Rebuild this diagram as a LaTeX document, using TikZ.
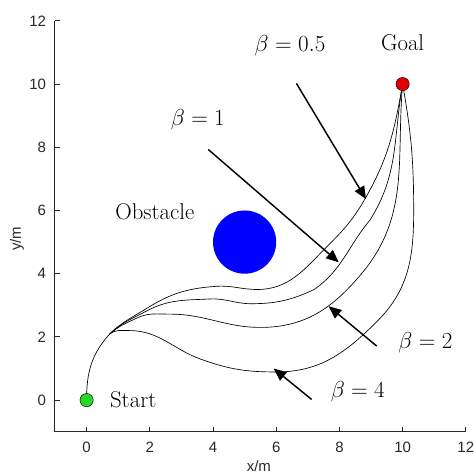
\documentclass[tikz,border=0pt]{standalone}
\usepackage{fontspec}
\newfontfamily\axisfont{Liberation Sans}
\usetikzlibrary{arrows.meta}
\definecolor{startgreen}{RGB}{40,215,40}
\definecolor{goalred}{RGB}{225,0,0}
\definecolor{obstblue}{RGB}{0,0,255}
\definecolor{axisgray}{RGB}{40,40,40}
\tikzset{
  path/.style={line width=0.6pt},
  pointer/.style={line width=1.3pt,-{Triangle[length=4mm,width=3.4mm]}},
  ticklabel/.style={font=\axisfont\fontsize{13.5}{15}\selectfont,text=axisgray},
  textlabel/.style={font=\fontsize{20.5}{24}\selectfont}
}
\begin{document}
\begin{tikzpicture}
\useasboundingbox (-2.74,-2.34) rectangle (12.29,12.66);

% axes
\draw[axisgray,line width=0.9pt] (-1,12) -- (-1,-1) -- (12,-1);
\foreach \x in {0,2,...,12}{
  \draw[axisgray,line width=0.9pt] (\x,-1) -- (\x,-0.84);
  \node[ticklabel] at (\x,-1.48) {\x};
}
\foreach \y in {0,2,...,12}{
  \draw[axisgray,line width=0.9pt] (-1,\y) -- (-0.84,\y);
  \node[ticklabel,anchor=east] at (-1.16,\y) {\y};
}
\node[ticklabel] at (5.45,-2.1) {x/m};
\node[ticklabel,rotate=90] at (-2.2,5.1) {y/m};

% obstacle
\fill[obstblue] (5,5) circle (1);
\node[textlabel] (obst) at (2.16,5.95) {Obstacle};

% paths
\coordinate (split) at (0.72,2.08);
\draw[path] (0,0) to[out=90,in=228] (split);
\draw[path] (split) to[out=45,in=212] (1.9,2.9) to[out=32,in=184] (4.1,3.6)
  to[out=4,in=180] (5.4,3.5) to[out=0,in=225] (7.6,4.85)
  to[out=45,in=240] (8.8,6.35) to[out=60,in=260] (10,10);
\draw[path] (split) to[out=44,in=208] (1.9,2.82) to[out=28,in=183] (3.9,3.2)
  to[out=3,in=180] (5.2,3.05) to[out=0,in=205] (7.2,3.5)
  to[out=35,in=230] (8.97,5.7) to[out=58,in=260] (10,10);
\draw[path] (split) to[out=42,in=205] (1.6,2.6) to[out=25,in=180] (2.64,2.72)
  to[out=0,in=180] (5.5,2.3) to[out=0,in=230] (8.7,4.0)
  to[out=50,in=265] (10,10);
\draw[path] (split) to[out=40,in=180] (1.35,2.2) to[out=0,in=160] (3.6,1.3)
  to[out=-20,in=180] (6,0.89) to[out=0,in=225] (9.2,2.5)
  to[out=45,in=270] (10.35,6.0) to[out=90,in=280] (10,10);

% start and goal
\node[circle,draw,fill=startgreen,inner sep=0pt,minimum size=0.42cm] (start) at (0,0) {};
\node[circle,draw,fill=goalred,inner sep=0pt,minimum size=0.42cm] (goal) at (10,10) {};
\node[textlabel,anchor=west] (startlbl) at (0.62,0) {Start};
\node[textlabel] (goallbl) at (10,11.3) {Goal};

% beta labels
\node[textlabel] (b05) at (6.44,11.22) {$\beta = 0.5$};
\node[textlabel] (b1) at (3.52,8.88) {$\beta = 1$};
\node[textlabel] (b2) at (10.72,1.82) {$\beta = 2$};
\node[textlabel] (b4) at (8.58,0.26) {$\beta = 4$};

\coordinate (p05) at (6.64,10.02);
\coordinate (q05) at (8.84,6.36);
\coordinate (p1) at (3.85,7.93);
\coordinate (q1) at (7.98,4.36);
\coordinate (p2) at (9.18,1.71);
\coordinate (q2) at (7.66,2.97);
\coordinate (p4) at (7.12,0.02);
\coordinate (q4) at (5.92,1.0);
\draw[pointer] (p05) -- (q05);
\draw[pointer] (p1) -- (q1);
\draw[pointer] (p2) -- (q2);
\draw[pointer] (p4) -- (q4);
\end{tikzpicture}
\end{document}
